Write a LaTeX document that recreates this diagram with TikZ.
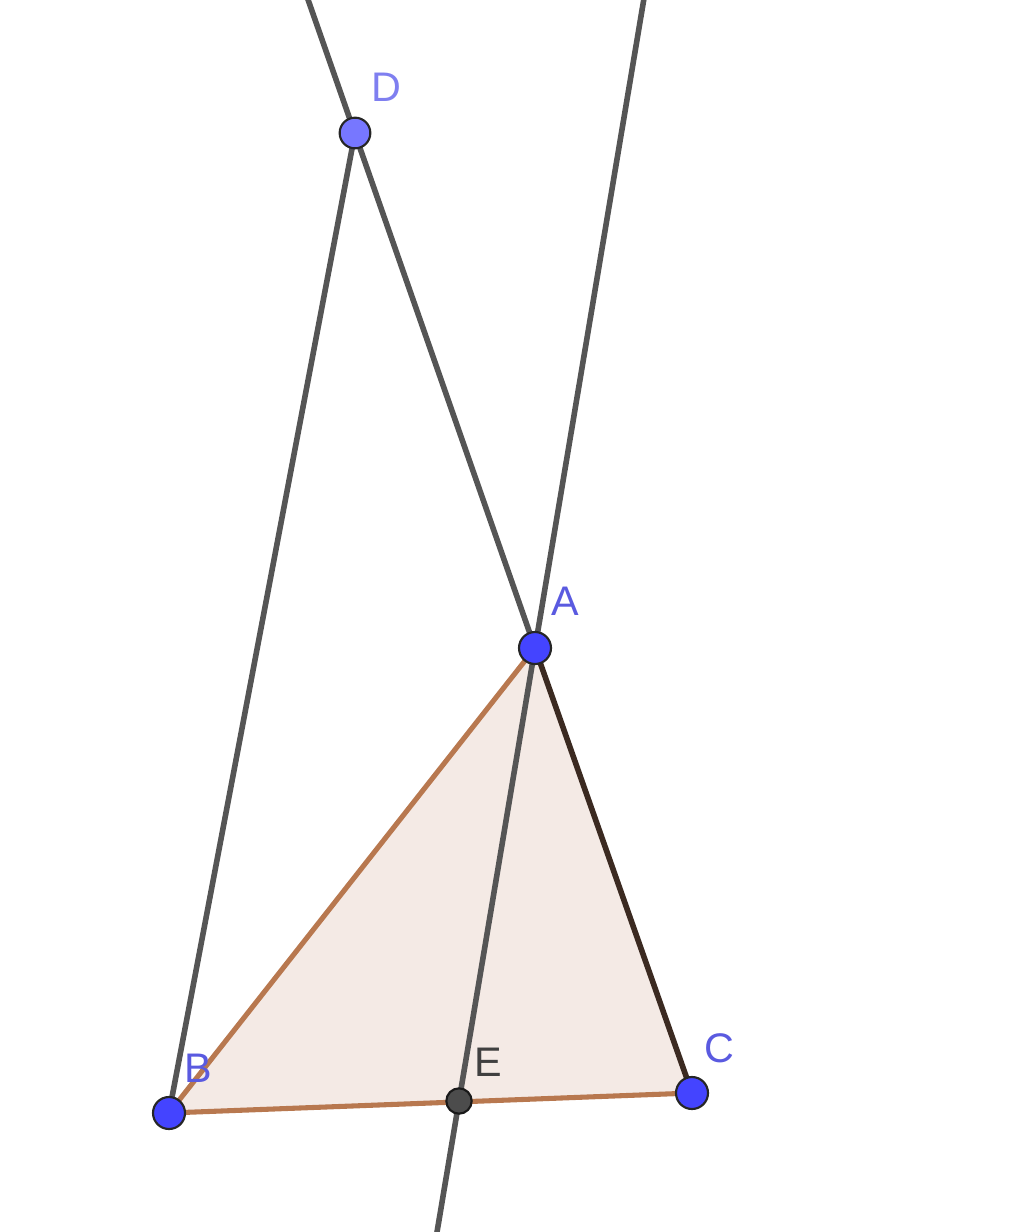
\documentclass[tikz,border=0pt]{standalone}
\usepackage{fontspec}
\setmainfont{Liberation Sans}
\usetikzlibrary{calc}
\definecolor{ptblue}{HTML}{4444FF}
\definecolor{ptlight}{HTML}{7777FF}
\definecolor{lblblue}{HTML}{5A5AE0}
\definecolor{lbllight}{HTML}{7F7FF0}
\definecolor{linegrey}{HTML}{555555}
\definecolor{edgebrown}{HTML}{B8784F}
\definecolor{edgedark}{HTML}{3B2A21}
\definecolor{trifill}{HTML}{F4EAE5}
\tikzset{
  gline/.style={draw=linegrey, line width=4.2pt},
  bedge/.style={draw=edgebrown, line width=3.8pt, line cap=round},
  dedge/.style={draw=edgedark, line width=4.2pt, line cap=round},
  bpt/.style={circle, fill=ptblue, draw=black!85, line width=1.6pt, minimum size=24pt, inner sep=0pt},
  lpt/.style={circle, fill=ptlight, draw=black!85, line width=1.6pt, minimum size=23pt, inner sep=0pt},
  gpt/.style={circle, fill=black!70, draw=black!90, line width=1.6pt, minimum size=19pt, inner sep=0pt},
  lbl/.style={text=lblblue, font=\fontsize{31}{31}\selectfont, inner sep=0pt},
}
\begin{document}
\begin{tikzpicture}[x=0.75pt, y=-0.75pt]
\useasboundingbox (0,0) rectangle (1024,1232);
\coordinate (A) at (535,648);
\coordinate (B) at (169,1113);
\coordinate (C) at (692,1093);
\coordinate (D) at (355,133);
\coordinate (E) at (459,1101);
\begin{scope}
\clip (0,0) rectangle (1024,1232);
\fill[trifill] (A) -- (B) -- (C) -- cycle;
\draw[bedge] (A) -- (B);
\draw[bedge] (B) -- (C);
\draw[gline] (B) -- (D);
\draw[gline] ($(D)!-0.3!(C)$) -- (A);
\draw[gline] ($(A)!-2!(E)$) -- ($(A)!2!(E)$);
\draw[dedge] (A) -- (C);
\end{scope}
\node[lpt] (nD) at (D) {};
\node[bpt] (nA) at (A) {};
\node[bpt] (nB) at (B) {};
\node[bpt] (nC) at (C) {};
\node[gpt] (nE) at (E) {};
\node[lbl, text=lbllight] (tD) at (386,87) {D};
\node[lbl] (tA) at (565,601) {A};
\node[lbl] (tB) at (198,1068) {B};
\node[lbl] (tC) at (719,1048) {C};
\node[lbl, text=black!75] (tE) at (488,1062) {E};
\end{tikzpicture}
\end{document}
